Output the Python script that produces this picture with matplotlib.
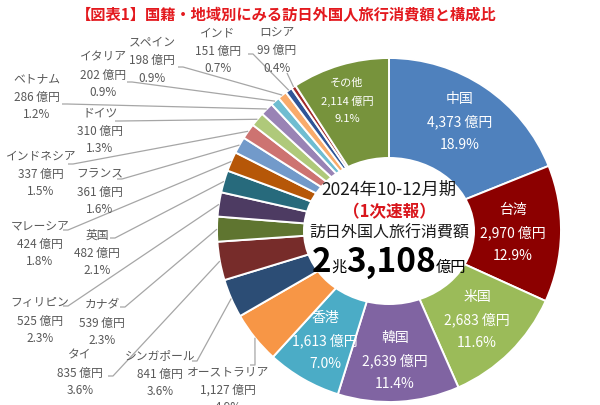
import numpy as np
import matplotlib
matplotlib.use("Agg")
import matplotlib.pyplot as plt
from matplotlib.patches import Ellipse

plt.rcParams['font.family'] = ['Noto Sans CJK JP', 'DejaVu Sans']

W, H = 600, 406

# データ（億円・構成比）
countries = ['中国', '台湾', '米国', '韓国', '香港', 'オーストラリア', 'シンガポール',
             'タイ', 'カナダ', 'フィリピン', '英国', 'マレーシア', 'フランス',
             'インドネシア', 'ドイツ', 'ベトナム', 'イタリア', 'スペイン', 'インド',
             'ロシア', 'その他']
amounts = [4373, 2970, 2683, 2639, 1613, 1127, 841, 835, 539, 525, 482, 424,
           361, 337, 310, 286, 202, 198, 151, 99, 2114]
shares = ['18.9%', '12.9%', '11.6%', '11.4%', '7.0%', '4.9%', '3.6%', '3.6%',
          '2.3%', '2.3%', '2.1%', '1.8%', '1.6%', '1.5%', '1.3%', '1.2%',
          '0.9%', '0.9%', '0.7%', '0.4%', '9.1%']
colors = ['#4F81BD', '#8C0000', '#9BBB59', '#8064A2', '#4BACC6', '#F79646',
          '#2C4D75', '#772C2A', '#5F7530', '#4D3B62', '#276A7C', '#B65708',
          '#729ACA', '#CD7371', '#AFC97A', '#9983B5', '#6FBDD1', '#F9AB6B',
          '#2F5597', '#A02B2B', '#77933C']

period = '2024年10-12月期'
flash = '（1次速報）'
total_label = '訪日外国人旅行消費額'
total_parts = ['2', '兆', '3,108', '億円']

# 図の配置（ピクセル座標）
cx, cy, R = 389, 231, 172

# ラベル位置: 中央行の位置
inside = {0: (460, 122, 10), 1: (513, 233, 10), 2: (477, 320, 10),
          3: (395, 361, 10), 4: (325, 341, 10), 20: (347, 101, 8)}
outside = {5: (228, 390), 6: (160, 374), 7: (80, 373), 8: (102, 323),
           9: (40, 321), 10: (97, 253), 11: (40, 244), 12: (100, 192),
           13: (41, 174), 14: (100, 131), 15: (37, 97), 16: (103, 75),
           17: (152, 60), 18: (218, 51), 19: (277, 50)}
leader_start = {5: (250, 366), 6: (192, 362), 7: (108, 377), 8: (120, 308),
                9: (63, 307), 10: (110, 239), 11: (63, 231), 12: (117, 180),
                13: (68, 165), 14: (115, 122), 15: (62, 105), 16: (127, 83),
                17: (178, 68), 18: (248, 55), 19: (287, 74)}

fig = plt.figure(figsize=(W / 100, H / 100), dpi=100)
ax = fig.add_axes([0, 0, 1, 1])

# y軸を下向きにしているので startangle=-90, counterclock=True で上から時計回り
ax.pie(amounts, colors=colors, startangle=-90, counterclock=True,
       center=(cx, cy), radius=R,
       wedgeprops=dict(width=R - 70, edgecolor='white', linewidth=1.4))
ax.add_patch(Ellipse((cx, cy + 1), 172, 148, facecolor='white', edgecolor='none', zorder=3))

ax.set_xlim(0, W)
ax.set_ylim(H, 0)
ax.set_aspect('auto')
ax.axis('off')

total = sum(amounts)
cum = np.cumsum([0] + amounts[:-1])
for i, v in enumerate(amounts):
    lines = [countries[i], f'{v:,} 億円', shares[i]]
    if i in inside:
        x, y, fs = inside[i]
        dy = 23 if fs == 10 else 18
        for k, t in enumerate(lines):
            ax.text(x, y + (k - 1) * dy, t, color='white', fontsize=fs,
                    ha='center', va='center', zorder=5)
    else:
        x, y = outside[i]
        for k, t in enumerate(lines):
            ax.text(x, y + (k - 1) * 18, t, color='#595959', fontsize=8.5,
                    ha='center', va='center', zorder=5)
        a = 2 * np.pi * (cum[i] + v / 2) / total
        ex, ey = cx + R * np.sin(a), cy - R * np.cos(a)
        sx, sy = leader_start[i]
        if i == 19:
            xs, ys = [sx, ex], [sy, ey]
        else:
            xs, ys = [sx, sx + 5, ex], [sy, sy, ey]
        ax.plot(xs, ys, color='#A6A6A6', lw=0.9, zorder=4, solid_capstyle='butt')

ax.text(286, 15, '【図表1】国籍・地域別にみる訪日外国人旅行消費額と構成比',
        color='#E3191E', fontsize=11, fontweight='bold', ha='center', va='center')

ax.text(cx, 190, period, fontsize=12.5, color='#1a1a1a', ha='center', va='center', zorder=6)
ax.text(cx, 212, flash, fontsize=12, color='#D9161C', fontweight='bold',
        ha='center', va='center', zorder=6)
ax.text(cx, 233, total_label, fontsize=11.5, color='#1a1a1a', ha='center', va='center', zorder=6)

# 合計額: 大小の文字を並べる
sizes = [24, 11, 24, 11]
weights = ['bold', 'normal', 'bold', 'normal']
texts = []
for t, s, w in zip(total_parts, sizes, weights):
    texts.append(ax.text(0, 272, t, fontsize=s, fontweight=w, color='black',
                         ha='left', va='baseline', zorder=6))
fig.canvas.draw()
r = fig.canvas.get_renderer()
widths = [t.get_window_extent(renderer=r).width for t in texts]
x0 = cx - sum(widths) / 2
for t, wdt in zip(texts, widths):
    t.set_x(x0)
    x0 += wdt

fig.savefig('out.png', dpi=100, facecolor='white')
